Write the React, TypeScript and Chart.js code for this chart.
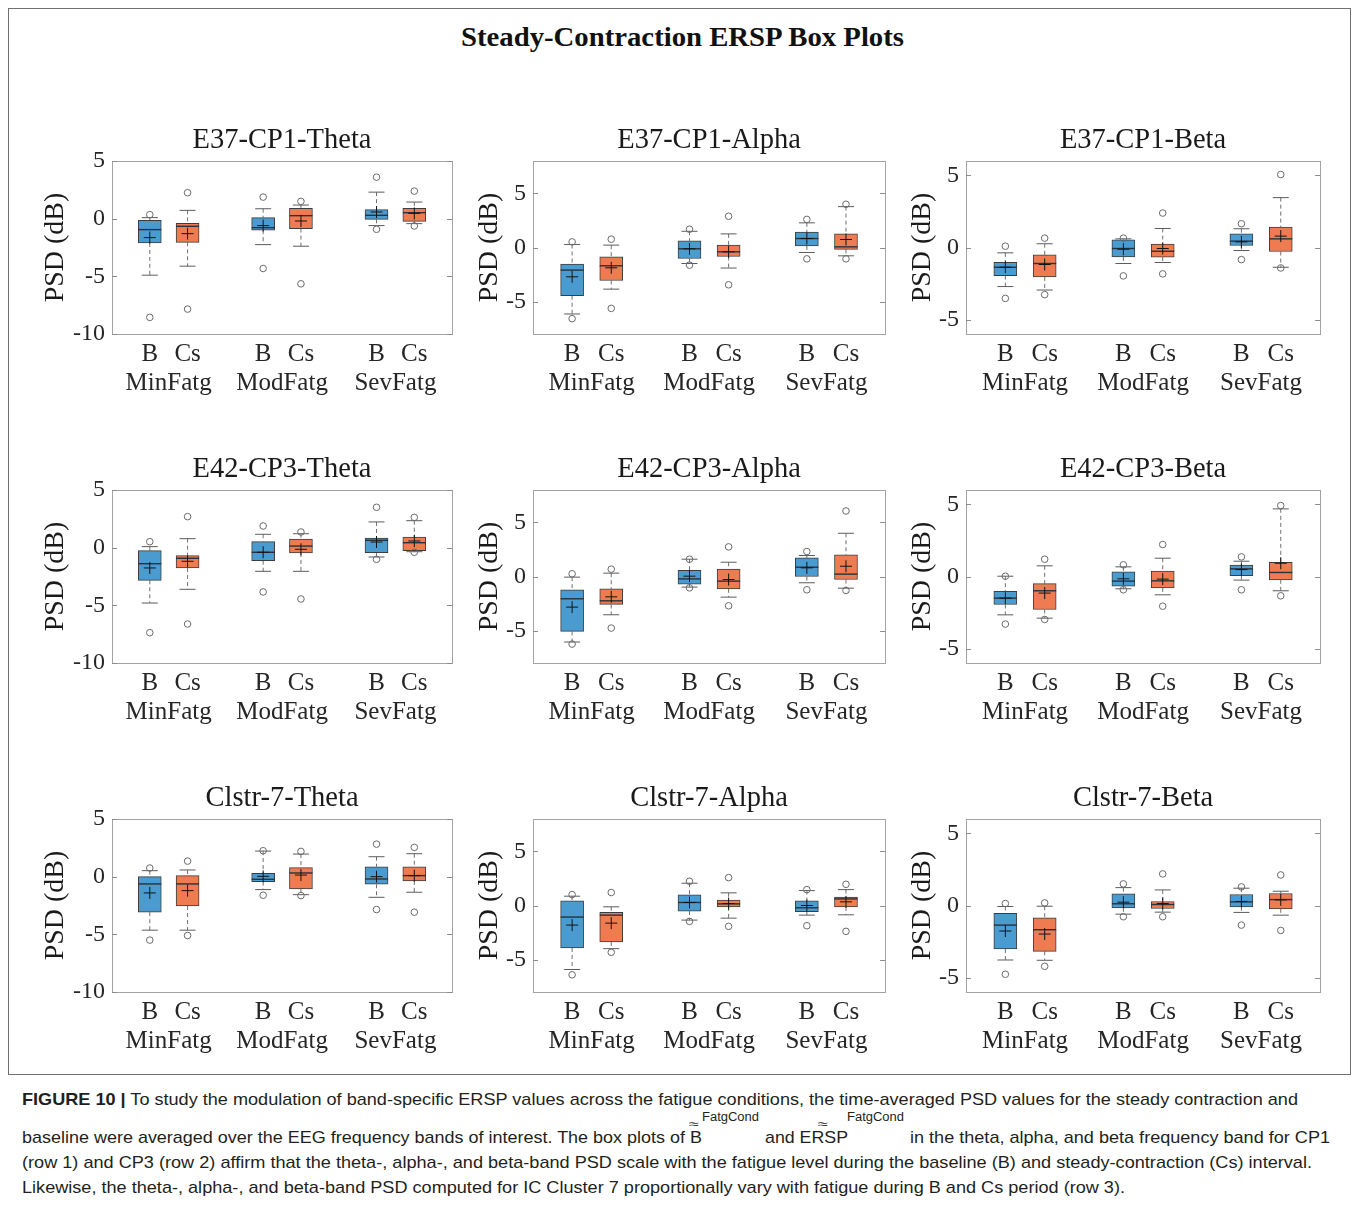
import React, { useEffect, useLayoutEffect, useRef } from 'react';
import { Chart, registerables } from 'chart.js';

Chart.register(...registerables);

// ---------------- data ----------------
const panelTitles = [
  'E37-CP1-Theta', 'E37-CP1-Alpha', 'E37-CP1-Beta',
  'E42-CP3-Theta', 'E42-CP3-Alpha', 'E42-CP3-Beta',
  'Clstr-7-Theta', 'Clstr-7-Alpha', 'Clstr-7-Beta',
];
const conditionLabels = ['B', 'Cs'];
const fatigueGroups = ['MinFatg', 'ModFatg', 'SevFatg'];
const boxPositions = [1, 2, 4, 5, 7, 8];
const groupCenters = [1.5, 4.5, 7.5];
const xMin = 0;
const xMax = 9;
// per band (theta, alpha, beta)
const yMinByBand = [-10, -8, -6];
const yMaxByBand = [5, 8, 6];
const yTicksByBand = [[-10, -5, 0, 5], [-5, 0, 5], [-5, 0, 5]];
const yAxisTitle = 'PSD (dB)';

// each row: one panel; columns: B-Min, Cs-Min, B-Mod, Cs-Mod, B-Sev, Cs-Sev
const boxUpper = [
  [-0.14, -0.4, 0.09, 0.89, 0.78, 0.89],
  [-1.54, -0.86, 0.62, 0.22, 1.42, 1.26],
  [-1.02, -0.51, 0.53, 0.23, 0.95, 1.42],
  [-0.26, -0.69, 0.52, 0.75, 0.84, 0.92],
  [-1.23, -1.14, 0.58, 0.68, 1.72, 2.0],
  [-1.02, -0.49, 0.32, 0.37, 0.79, 0.99],
  [0.0, 0.09, 0.29, 0.78, 0.86, 0.86],
  [0.43, -0.64, 0.98, 0.49, 0.43, 0.77],
  [-0.55, -0.85, 0.81, 0.28, 0.76, 0.83],
];
const boxLower = [
  [-2.1, -2.05, -1.0, -0.86, -0.06, -0.23],
  [-4.46, -3.05, -1.02, -0.83, 0.15, -0.18],
  [-1.95, -2.04, -0.65, -0.67, 0.14, -0.28],
  [-2.83, -1.76, -1.13, -0.46, -0.43, -0.26],
  [-5.08, -2.58, -0.71, -1.14, 0.0, -0.28],
  [-1.94, -2.29, -0.67, -0.79, 0.05, -0.23],
  [-3.08, -2.54, -0.43, -1.07, -0.66, -0.37],
  [-3.93, -3.37, -0.52, -0.12, -0.58, -0.12],
  [-3.02, -3.18, -0.16, -0.21, -0.09, -0.23],
];
const medians = [
  [-0.95, -0.66, -0.78, 0.26, 0.29, 0.52],
  [-2.09, -1.69, -0.12, -0.4, 0.83, 0.06],
  [-1.37, -1.11, -0.07, -0.26, 0.44, 0.6],
  [-1.39, -0.92, -0.4, 0.14, 0.64, 0.43],
  [-2.06, -2.25, -0.22, -0.43, 0.86, 0.22],
  [-1.5, -0.99, -0.32, -0.3, 0.53, 0.28],
  [-0.63, -0.63, -0.23, 0.32, -0.2, 0.09],
  [-1.07, -0.89, 0.28, 0.15, -0.21, 0.61],
  [-1.36, -1.68, 0.12, 0.07, 0.25, 0.41],
];
const means = [
  [-1.64, -1.3, -0.6, -0.2, 0.58, 0.46],
  [-2.71, -1.88, -0.12, -0.4, 0.83, 0.74],
  [-1.37, -1.18, -0.12, -0.07, 0.39, 0.79],
  [-1.76, -1.18, -0.4, -0.14, 0.49, 0.58],
  [-2.83, -1.88, 0.03, -0.28, 0.8, 0.95],
  [-1.5, -1.15, -0.16, -0.18, 0.48, 0.92],
  [-1.41, -1.21, 0.03, 0.14, 0.0, 0.09],
  [-1.81, -1.63, 0.28, 0.18, 0.0, 0.34],
  [-1.77, -1.98, 0.23, 0.14, 0.28, 0.39],
];
const whiskerHigh = [
  [0.09, 0.72, 0.86, 1.18, 2.3, 1.44],
  [0.28, 0.22, 1.5, 1.26, 2.28, 3.78],
  [-0.37, 0.26, 0.6, 1.32, 1.3, 3.46],
  [0.09, 0.78, 1.16, 1.21, 2.23, 2.34],
  [-0.06, 0.31, 1.6, 1.32, 1.94, 4.0],
  [0.02, 0.74, 0.67, 1.27, 1.06, 4.69],
  [0.52, 0.58, 2.22, 1.96, 1.73, 1.99],
  [0.86, -0.12, 2.06, 1.17, 1.38, 1.47],
  [-0.07, -0.05, 1.24, 1.08, 1.2, 0.99],
];
const whiskerLow = [
  [-4.9, -4.12, -2.25, -2.39, -0.6, -0.43],
  [-6.15, -3.85, -1.48, -1.9, -0.46, -0.77],
  [-2.71, -2.95, -1.11, -1.04, -0.21, -1.37],
  [-4.8, -3.61, -2.05, -2.05, -0.81, -0.35],
  [-6.06, -3.54, -0.98, -1.91, -0.58, -1.08],
  [-2.66, -2.89, -0.85, -1.27, -0.25, -0.99],
  [-4.64, -4.64, -1.12, -1.56, -1.79, -1.35],
  [-5.92, -3.99, -1.35, -1.17, -0.89, -0.86],
  [-3.78, -3.8, -0.6, -0.46, -0.48, -0.67],
];
const outlierHigh = [
  [0.35, 2.25, 1.87, 1.5, 3.6, 2.39],
  [0.52, 0.77, 1.69, 2.89, 2.6, 4.0],
  [0.09, 0.65, 0.65, 2.39, 1.65, 5.06],
  [0.52, 2.69, 1.88, 1.36, 3.5, 2.63],
  [0.25, 0.68, 1.6, 2.74, 2.31, 6.06],
  [0.02, 1.2, 0.81, 2.22, 1.36, 4.92],
  [0.75, 1.35, 2.25, 2.19, 2.82, 2.54],
  [1.01, 1.2, 2.24, 2.58, 1.47, 1.96],
  [0.14, 0.18, 1.5, 2.19, 1.29, 2.12],
];
const outlierLow = [
  [-8.56, -7.84, -4.32, -5.65, -0.92, -0.63],
  [-6.58, -5.63, -1.63, -3.45, -1.05, -1.05],
  [-3.53, -3.27, -1.97, -1.83, -0.84, -1.42],
  [-7.37, -6.62, -3.84, -4.45, -1.01, -0.4],
  [-6.25, -4.77, -1.05, -2.71, -1.23, -1.29],
  [-3.3, -2.98, -0.92, -2.06, -0.92, -1.34],
  [-5.5, -5.1, -1.61, -1.64, -2.85, -3.08],
  [-6.41, -4.33, -1.47, -1.93, -1.87, -2.39],
  [-4.77, -4.22, -0.78, -0.78, -1.36, -1.73],
];

// ---------------- layout / style ----------------
const colLeft = [112, 533, 966];
const colRight = [455, 888, 1323];
const rowTop = [161, 490, 819];
const rowBottom = [334, 663, 992];
const yAxisWidth = [93, 80, 80];
const titleBoxH = 40;
const xAxisH = 80;
const padRight = 10;
const SERIF = "'Liberation Serif', 'Times New Roman', serif";
const SANS = "'Liberation Sans', Arial, sans-serif";
const BLUE = 'rgb(74,155,208)';
const ORANGE = 'rgb(238,124,80)';

const framePlugin = {
  id: 'panelFrame',
  afterDraw(chart: any, _args: any, opts: any) {
    const { ctx, chartArea: a, scales } = chart;
    const y = scales.y;
    ctx.save();
    ctx.strokeStyle = '#a3a3a3';
    ctx.lineWidth = 1;
    ctx.strokeRect(Math.round(a.left) + 0.5, Math.round(a.top) + 0.5, Math.round(a.right - a.left), Math.round(a.bottom - a.top));
    ctx.strokeStyle = '#8c8c8c';
    for (const t of y.ticks) {
      const py = Math.round(y.getPixelForValue(t.value)) + 0.5;
      ctx.beginPath();
      ctx.moveTo(a.left, py);
      ctx.lineTo(a.left + 5, py);
      ctx.moveTo(a.right - 5, py);
      ctx.lineTo(a.right, py);
      ctx.stroke();
    }
    // panel title centred over the plot area
    if (opts && opts.text) {
      ctx.fillStyle = '#1a1a1a';
      ctx.font = `normal 28.5px ${SERIF}`;
      ctx.textAlign = 'center';
      ctx.textBaseline = 'middle';
      ctx.fillText(opts.text, (a.left + a.right) / 2, a.top - 20);
    }
    ctx.restore();
  },
};

function Panel({ index }: { index: number }) {
  const ref = useRef<HTMLCanvasElement>(null);
  const col = index % 3;
  const row = Math.floor(index / 3);
  const band = col;
  const W = yAxisWidth[col];
  const left = colLeft[col] - W;
  const top = rowTop[row] - titleBoxH;
  const width = W + (colRight[col] - colLeft[col]) + padRight;
  const height = titleBoxH + (rowBottom[row] - rowTop[row]) + xAxisH;

  useEffect(() => {
    const canvas = ref.current;
    if (!canvas) return;
    const q3 = boxUpper[index];
    const q1 = boxLower[index];
    const whiskerPts: any[] = [];
    const capPts: any[] = [];
    const outPts: any[] = [];
    boxPositions.forEach((x, i) => {
      whiskerPts.push({ x, y: whiskerHigh[index][i] }, { x, y: q3[i] }, { x, y: null });
      whiskerPts.push({ x, y: q1[i] }, { x, y: whiskerLow[index][i] }, { x, y: null });
      capPts.push({ x, y: whiskerHigh[index][i] }, { x, y: whiskerLow[index][i] });
      outPts.push({ x, y: outlierHigh[index][i] }, { x, y: outlierLow[index][i] });
    });
    const chart = new Chart(canvas, {
      type: 'bar',
      data: {
        datasets: [
          {
            type: 'line',
            data: whiskerPts,
            borderColor: '#707070',
            borderWidth: 1,
            borderDash: [4, 3],
            pointRadius: 0,
            spanGaps: false,
            fill: false,
            order: 6,
          } as any,
          {
            type: 'bar',
            data: boxPositions.map((x, i) => ({ x, y: [q1[i], q3[i]] })),
            backgroundColor: boxPositions.map((_, i) => (i % 2 === 0 ? BLUE : ORANGE)),
            borderColor: '#3d3d3d',
            borderWidth: 1,
            borderSkipped: false,
            barThickness: 23,
            order: 5,
          } as any,
          {
            type: 'scatter',
            data: capPts,
            pointStyle: 'line',
            pointRadius: 8,
            pointBorderColor: '#5c5c5c',
            pointBorderWidth: 1,
            order: 4,
          } as any,
          {
            type: 'scatter',
            data: boxPositions.map((x, i) => ({ x, y: medians[index][i] })),
            pointStyle: 'line',
            pointRadius: 11.5,
            pointBorderColor: '#27323c',
            pointBorderWidth: 1.4,
            order: 3,
          } as any,
          {
            type: 'scatter',
            data: boxPositions.map((x, i) => ({ x, y: means[index][i] })),
            pointStyle: 'cross',
            pointRadius: 6,
            pointBorderColor: '#141414',
            pointBorderWidth: 1,
            order: 2,
          } as any,
          {
            type: 'scatter',
            data: outPts,
            pointStyle: 'circle',
            pointRadius: 3.3,
            pointBorderColor: '#6a6a6a',
            pointBackgroundColor: 'rgba(255,255,255,0)',
            pointBorderWidth: 1,
            order: 1,
          } as any,
        ],
      },
      options: {
        responsive: false,
        animation: false,
        events: [],
        layout: { padding: { top: titleBoxH, left: 0, right: padRight, bottom: 0 } },
        plugins: {
          legend: { display: false },
          tooltip: { enabled: false },
          title: { display: false },
          panelFrame: { text: panelTitles[index] },
        },
        scales: {
          x: {
            type: 'linear',
            min: xMin,
            max: xMax,
            offset: false,
            grid: { display: false, drawTicks: false },
            border: { display: false },
            afterBuildTicks: (scale: any) => {
              const vals = [...boxPositions, ...groupCenters].sort((a, b) => a - b);
              scale.ticks = vals.map((v) => ({ value: v }));
            },
            afterFit: (scale: any) => {
              scale.height = xAxisH;
            },
            ticks: {
              autoSkip: false,
              maxRotation: 0,
              minRotation: 0,
              padding: 5.5,
              color: '#262626',
              font: { family: SERIF, size: 25, lineHeight: '29px' },
              callback: (value: any) => {
                const v = Number(value);
                const bi = boxPositions.indexOf(v);
                if (bi >= 0) return [conditionLabels[bi % 2], ''];
                const gi = groupCenters.indexOf(v);
                if (gi >= 0) return ['', fatigueGroups[gi]];
                return '';
              },
            },
          },
          y: {
            type: 'linear',
            min: yMinByBand[band],
            max: yMaxByBand[band],
            grid: { display: false, drawTicks: false },
            border: { display: false },
            afterBuildTicks: (scale: any) => {
              scale.ticks = yTicksByBand[band].map((v) => ({ value: v }));
            },
            afterFit: (scale: any) => {
              scale.width = W;
            },
            ticks: {
              padding: 7,
              color: '#262626',
              font: { family: SERIF, size: 24 },
              callback: (value: any) => String(value),
            },
            title: {
              display: true,
              text: yAxisTitle,
              color: '#1a1a1a',
              font: { family: SERIF, size: 28, lineHeight: 1.2 },
              padding: { top: 20, bottom: 0 },
            },
          },
        },
      } as any,
      plugins: [framePlugin],
    });
    return () => chart.destroy();
  }, [index]);

  return (
    <canvas
      ref={ref}
      width={width}
      height={height}
      style={{ position: 'absolute', left, top, width, height }}
    />
  );
}

function FitText({ x, y, width, lineHeight, style, children }: any) {
  const ref = useRef<HTMLSpanElement>(null);
  useLayoutEffect(() => {
    const el = ref.current;
    if (!el) return;
    el.style.transform = 'none';
    const w = el.getBoundingClientRect().width;
    if (w > 0) el.style.transform = `scaleX(${width / w})`;
  }, [width]);
  return (
    <span
      ref={ref}
      style={{
        position: 'absolute',
        left: x,
        top: y - lineHeight / 2,
        lineHeight: `${lineHeight}px`,
        whiteSpace: 'nowrap',
        transformOrigin: '0 0',
        ...style,
      }}
    >
      {children}
    </span>
  );
}

const captionStyle = { fontFamily: SANS, fontSize: 17, color: '#231f20' };
const supStyle = { fontFamily: SANS, fontSize: 12, color: '#231f20' };

export default function App() {
  return (
    <div style={{ position: 'absolute', left: 0, top: 0, width: 1360, height: 1207, background: '#fff' }}>
      <div
        style={{
          position: 'absolute',
          left: 8,
          top: 8,
          width: 1343,
          height: 1067,
          border: '1px solid #707070',
          boxSizing: 'border-box',
        }}
      />
      <FitText
        x={461}
        y={37}
        width={443}
        lineHeight={34}
        style={{ fontFamily: SERIF, fontWeight: 'bold', fontSize: 28, color: '#111' }}
      >
        Steady-Contraction ERSP Box Plots
      </FitText>
      {panelTitles.map((_, i) => (
        <Panel key={i} index={i} />
      ))}
      <FitText x={22} y={1100} width={1276} lineHeight={22} style={captionStyle}>
        <b>FIGURE 10 |</b> To study the modulation of band-specific ERSP values across the fatigue
        conditions, the time-averaged PSD values for the steady contraction and
      </FitText>
      <FitText x={689} y={1124} width={10} lineHeight={14} style={supStyle}>≈</FitText>
      <FitText x={702} y={1117} width={57} lineHeight={14} style={supStyle}>FatgCond</FitText>
      <FitText x={818} y={1124} width={10} lineHeight={14} style={supStyle}>≈</FitText>
      <FitText x={847} y={1117} width={57} lineHeight={14} style={supStyle}>FatgCond</FitText>
      <FitText x={22} y={1138} width={680} lineHeight={22} style={captionStyle}>
        baseline were averaged over the EEG frequency bands of interest. The box plots of B
      </FitText>
      <FitText x={765} y={1138} width={83} lineHeight={22} style={captionStyle}>
        and ERSP
      </FitText>
      <FitText x={910} y={1138} width={420} lineHeight={22} style={captionStyle}>
        in the theta, alpha, and beta frequency band for CP1
      </FitText>
      <FitText x={22} y={1163} width={1290} lineHeight={22} style={captionStyle}>
        (row 1) and CP3 (row 2) affirm that the theta-, alpha-, and beta-band PSD scale with the fatigue
        level during the baseline (B) and steady-contraction (Cs) interval.
      </FitText>
      <FitText x={22} y={1188} width={1103} lineHeight={22} style={captionStyle}>
        Likewise, the theta-, alpha-, and beta-band PSD computed for IC Cluster 7 proportionally vary with
        fatigue during B and Cs period (row 3).
      </FitText>
    </div>
  );
}
